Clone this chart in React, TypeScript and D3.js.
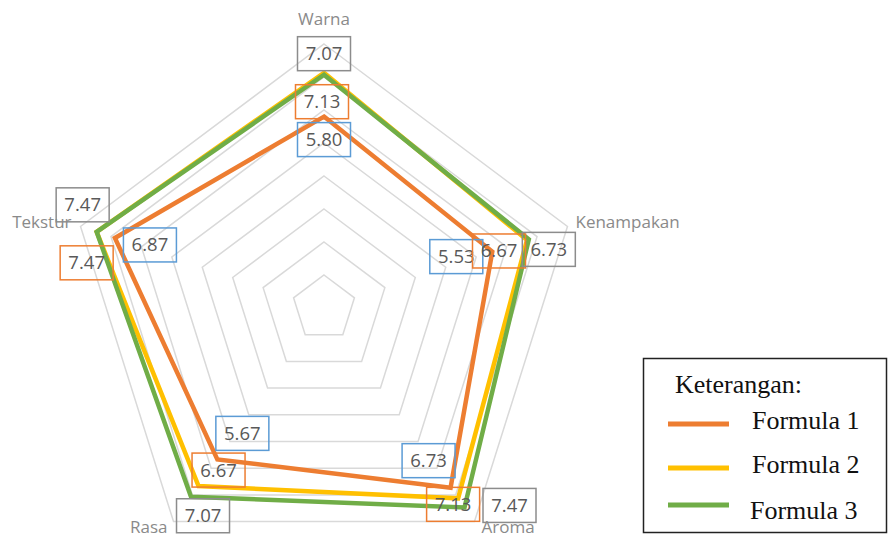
import { useEffect, useRef } from 'react';
import * as d3 from 'd3';

const categories = ['Warna', 'Kenampakan', 'Aroma', 'Rasa', 'Tekstur'];
const seriesNames = ['Formula 1', 'Formula 2', 'Formula 3'];
const formula1 = [5.8, 5.53, 6.73, 5.67, 6.87];
const formula2 = [7.13, 6.67, 7.13, 6.67, 7.47];
const formula3 = [7.07, 6.73, 7.47, 7.07, 7.47];
const ringTicks = [1, 2, 3, 4, 5, 6, 7, 8];

const lineColors = ['#ed7d31', '#ffc000', '#70ad47'];
const boxColors = ['#5b9bd5', '#ed7d31', '#8c8c8c'];

// label box offsets from the point (dx, dy), per series, per category
const labelOffsets = [
  [[0, 23], [-36, 5], [-22, -27], [25, -26], [35, 7]],
  [[-2, 29], [-28, 11], [-5, 6], [20, -16], [-10, 31]],
  [[0, -21], [20, 10], [45, -2], [12, 19], [-14, -27]],
];

export default function App() {
  const ref = useRef<SVGSVGElement | null>(null);

  useEffect(() => {
    const svg = d3.select(ref.current);
    svg.selectAll('*').remove();

    const width = 888;
    const height = 535;
    const cx = 324;
    const cy = 308;
    svg.attr('width', width).attr('height', height);

    const rx = d3.scaleLinear().domain([0, 8]).range([0, 256]);
    const ry = d3.scaleLinear().domain([0, 8]).range([0, 264]);
    const angle = (i: number) => ((-90 + 72 * i) * Math.PI) / 180;
    const pt = (v: number, i: number): [number, number] => [
      cx + rx(v) * Math.cos(angle(i)),
      cy + ry(v) * Math.sin(angle(i)),
    ];

    const line = d3.line<[number, number]>().curve(d3.curveLinearClosed);

    // grid rings
    svg.append('g')
      .selectAll('path')
      .data(ringTicks)
      .enter()
      .append('path')
      .attr('d', t => line(categories.map((_, i) => pt(t, i))))
      .attr('fill', 'none')
      .attr('stroke', '#d9d9d9')
      .attr('stroke-width', 1.5);

    // category labels
    const outer = ringTicks[ringTicks.length - 1];
    const catPos = [
      { dx: 0, dy: -19, anchor: 'middle' },
      { dx: 8, dy: 2, anchor: 'start' },
      { dx: 7, dy: 11, anchor: 'start' },
      { dx: -6, dy: 11, anchor: 'end' },
      { dx: -9, dy: 2, anchor: 'end' },
    ];
    svg.append('g')
      .selectAll('text')
      .data(categories)
      .enter()
      .append('text')
      .text(d => d)
      .attr('x', (_, i) => pt(outer, i)[0] + catPos[i].dx)
      .attr('y', (_, i) => pt(outer, i)[1] + catPos[i].dy)
      .attr('text-anchor', (_, i) => catPos[i].anchor)
      .attr('fill', '#8a8a8a')
      .attr('font-size', '17px')
      .attr('font-family', 'Open Sans, sans-serif');

    const series = [formula1, formula2, formula3];

    svg.append('g')
      .selectAll('path')
      .data(series)
      .enter()
      .append('path')
      .attr('d', s => line(s.map((v, i) => pt(v, i))))
      .attr('fill', 'none')
      .attr('stroke', (_, k) => lineColors[k])
      .attr('stroke-width', 4.5)
      .attr('stroke-linejoin', 'miter');

    // data labels
    const bw = 53;
    const bh = 34;
    series.forEach((s, k) => {
      const g = svg.append('g');
      s.forEach((v, i) => {
        const [px, py] = pt(v, i);
        const lx = px + labelOffsets[k][i][0];
        const ly = py + labelOffsets[k][i][1];
        g.append('rect')
          .attr('x', lx - bw / 2)
          .attr('y', ly - bh / 2)
          .attr('width', bw)
          .attr('height', bh)
          .attr('fill', 'none')
          .attr('stroke', boxColors[k])
          .attr('stroke-width', 1.5);
        g.append('text')
          .text(v.toFixed(2))
          .attr('x', lx)
          .attr('y', ly + 6.5)
          .attr('text-anchor', 'middle')
          .attr('fill', '#595959')
          .attr('font-size', '18.5px')
          .attr('font-family', 'Open Sans, sans-serif');
      });
    });

    // legend
    const lg = svg.append('g');
    lg.append('rect')
      .attr('x', 643.5)
      .attr('y', 358.5)
      .attr('width', 243)
      .attr('height', 174)
      .attr('fill', '#fff')
      .attr('stroke', '#222')
      .attr('stroke-width', 1.5);
    lg.append('text')
      .text('Keterangan:')
      .attr('x', 675)
      .attr('y', 393)
      .attr('fill', '#111')
      .attr('font-size', '26px')
      .attr('font-family', 'Liberation Serif, serif');
    const rowLine = [424, 468, 505];
    const rowText = [429, 473, 519];
    seriesNames.forEach((name, k) => {
      lg.append('line')
        .attr('x1', 668)
        .attr('x2', 729)
        .attr('y1', rowLine[k])
        .attr('y2', rowLine[k])
        .attr('stroke', lineColors[k])
        .attr('stroke-width', 5);
      lg.append('text')
        .text(name)
        .attr('x', k === 2 ? 750 : 752)
        .attr('y', rowText[k])
        .attr('fill', '#111')
        .attr('font-size', '26px')
        .attr('font-family', 'Liberation Serif, serif');
    });
  }, []);

  return (
    <svg
      ref={ref}
      style={{ position: 'absolute', left: 0, top: 0, background: '#fff' }}
    />
  );
}
